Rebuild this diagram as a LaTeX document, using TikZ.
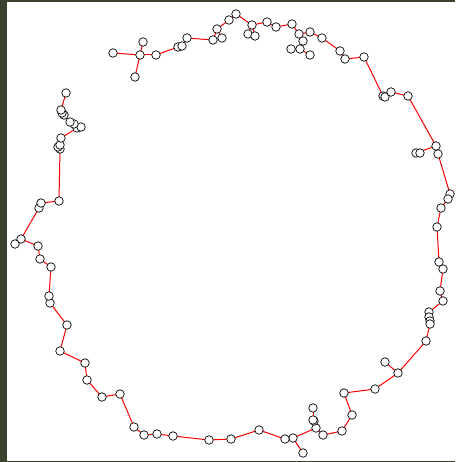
\documentclass[tikz,border=0pt]{standalone}
\usetikzlibrary{backgrounds}
\definecolor{frameol}{RGB}{58,65,45}
\begin{document}
\begin{tikzpicture}[x=1pt,y=-1pt,
  vtx/.style={circle,draw=black,fill=white,line width=0.7pt,minimum size=8.5pt,inner sep=0pt},
  edg/.style={draw=red,line width=1pt}]
\useasboundingbox (0,0) rectangle (455,462);
\foreach \n/\x/\y in {
a1/113/53,a2/140/55,a3/143/42,a4/135/77,a5/156/55,a6/178/47,a7/182/46,a8/187/38,
a9/213/40,a10/217/29,a11/222/38,a12/229/20,a13/236/14,a14/252/25,a15/248/34,a16/255/36,
a17/267/22,a18/276/27,a19/292/24,a20/299/34,a21/310/32,a22/322/38,a23/303/41,a24/291/49,
a25/300/49,a26/310/55,a27/340/51,a28/345/59,a29/364/57,a30/383/96,a31/385/97,a32/391/92,
a33/408/96,a34/436/146,a35/438/154,a36/416/153,a37/420/153,a38/450/194,a39/448/199,
a40/441/208,a41/437/227,a42/439/262,a43/443/269,a44/440/291,a45/443/301,a46/429/312,
a47/429/317,a48/430/321,a49/430/324,a50/426/341,a51/398/373,a52/385/362,a53/375/389,
a54/344/393,a55/352/415,a56/342/431,a57/323/435,a58/316/428,a59/314/421,a60/313/420,
a61/313/408,a62/293/438,a63/285/439,a64/303/453,a65/259/430,a66/231/439,a67/209/440,
a68/173/436,a69/157/434,a70/144/435,a71/134/427,a72/120/394,a73/102/397,a74/87/380,
a75/85/363,a76/60/351,a77/67/325,a78/50/303,a79/49/296,a80/51/267,a81/40/259,a82/38/246,
a83/21/239,a84/15/244,a85/39/208,a86/41/203,a87/59/201,a88/60/149,a89/58/147,a90/60/145,
a91/61/138,a92/77/128,a93/81/127,a94/74/124,a95/70/122,a96/64/115,a97/62/113,a98/61/110,
a99/66/93}
  \node[vtx] (\n) at (\x,\y) {};
\begin{scope}[on background layer]
  \fill[white] (0,0) rectangle (455,462);
  \fill[frameol] (0,0) rectangle (7,462);
  \fill[frameol] (0,0) rectangle (455,2);
  \fill[frameol] (0,460.5) rectangle (455,462);
  \foreach \u/\v in {a1/a2,a2/a3,a2/a4,a2/a5,a5/a6,a6/a7,a7/a8,a8/a9,a9/a10,a10/a11,
    a10/a12,a12/a13,a13/a14,a14/a15,a14/a16,a14/a17,a17/a18,a18/a19,a19/a20,a20/a21,
    a21/a22,a22/a27,a27/a28,a28/a29,a29/a30,a30/a31,a31/a32,a32/a33,a33/a34,a34/a36,
    a36/a37,a34/a35,a35/a38,a38/a39,a39/a40,a40/a41,a41/a42,a42/a43,a43/a44,a44/a45,
    a45/a46,a46/a47,a47/a48,a48/a49,a49/a50,a50/a51,a51/a52,a51/a53,a53/a54,a54/a55,
    a55/a56,a56/a57,a57/a58,a58/a59,a59/a60,a60/a61,a62/a58,a62/a63,a62/a64,a63/a65,
    a65/a66,a66/a67,a67/a68,a68/a69,a69/a70,a70/a71,a71/a72,a72/a73,a73/a74,a74/a75,
    a75/a76,a76/a77,a77/a78,a78/a79,a79/a80,a80/a81,a81/a82,a82/a83,a83/a84,a83/a85,
    a85/a86,a86/a87,a87/a88,a88/a89,a89/a90,a90/a91,a91/a92,a92/a93,a92/a94,a94/a95,
    a95/a96,a96/a97,a97/a98,a98/a99,a20/a23,a23/a25,a25/a24,a25/a26}
    \draw[edg] (\u.center) -- (\v.center);
\end{scope}
\end{tikzpicture}
\end{document}
